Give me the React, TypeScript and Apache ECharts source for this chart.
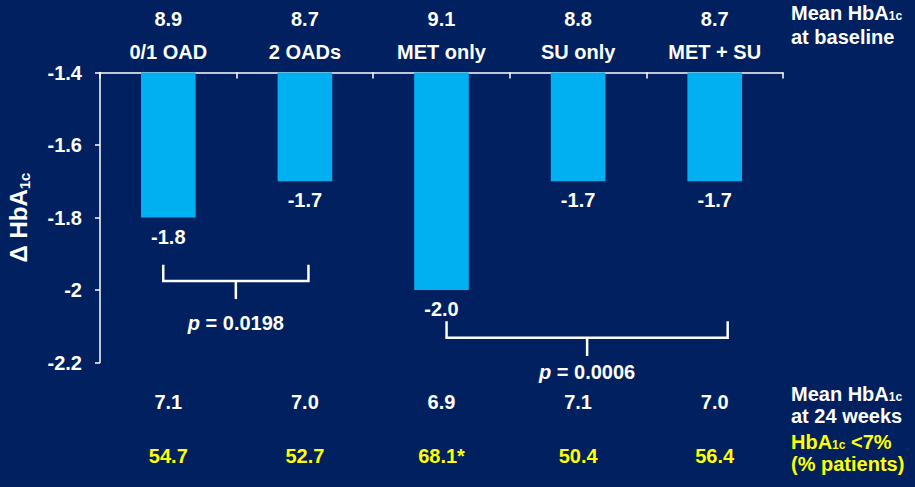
import React, { useEffect, useRef } from "react";
import * as echarts from "echarts";

const categories = ["0/1 OAD", "2 OADs", "MET only", "SU only", "MET + SU"];
const baselineHbA1c = ["8.9", "8.7", "9.1", "8.8", "8.7"];
const changeHbA1c = [-1.8, -1.7, -2.0, -1.7, -1.7];
const week24HbA1c = ["7.1", "7.0", "6.9", "7.1", "7.0"];
const below7Pct = ["54.7", "52.7", "68.1*", "50.4", "56.4"];
const yMin = -2.2;
const yMax = -1.4;
const yStep = 0.2;

// comparison brackets: category pair, value levels (arm tip, bar, stem end, label) and p value
const bracketFrom = [0, 2];
const bracketTo = [1, 4];
const bracketTip = [-1.93, -2.086];
const bracketBar = [-1.975, -2.132];
const bracketStem = [-2.025, -2.182];
const bracketLabel = [-2.09, -2.225];
const pValues = ["0.0198", "0.0006"];

const FONT = "'Liberation Sans', Arial, Helvetica, sans-serif";
const BG = "#002060";
const BAR = "#00B0F0";
const YELLOW = "#FFFF00";

export default function App() {
  const ref = useRef<HTMLDivElement>(null);

  useEffect(() => {
    document.body.style.margin = "0";
    const chart = echarts.init(ref.current!, null, { renderer: "svg" });

    // zrender (graphic) rich tokens use fill instead of color
    const gSub = (color: string) => ({
      fontSize: 12,
      fontWeight: "bold",
      fill: color,
      fontFamily: FONT,
      lineHeight: 12,
      padding: [7, 0, 0, 0],
      verticalAlign: "top",
    });
    const gMain = (color: string, size: number, lh: number) => ({
      fontSize: size,
      fontWeight: "bold",
      fill: color,
      fontFamily: FONT,
      lineHeight: lh,
      verticalAlign: "top",
    });

    const leftOff = [-0.037, 0.037];
    const rightOff = [0.026, 0.095];

    chart.setOption({
      animation: false,
      backgroundColor: BG,
      textStyle: { fontFamily: FONT },
      grid: {
        left: 100,
        right: 132,
        top: 72.5,
        bottom: 124.5,
        containLabel: false,
        outerBoundsMode: "none",
      },
      xAxis: [
        {
          type: "category",
          position: "top",
          data: categories,
          axisLine: { show: true, lineStyle: { color: "#ffffff", width: 1.5 } },
          axisTick: { show: true, inside: true, length: 6, lineStyle: { color: "#ffffff", width: 1.5 } },
          axisLabel: {
            margin: 4,
            interval: 0,
            formatter: (v: string, i: number) => `{b|${baselineHbA1c[i]}}\n{c|${v}}`,
            rich: {
              b: { fontSize: 20, fontWeight: "bold", color: "#fff", fontFamily: FONT, lineHeight: 33 },
              c: { fontSize: 20, fontWeight: "bold", color: "#fff", fontFamily: FONT, lineHeight: 33 },
            },
          },
          splitLine: { show: false },
        },
        {
          type: "category",
          position: "bottom",
          data: categories,
          axisLine: { show: false },
          axisTick: { show: false },
          axisLabel: {
            margin: 12,
            interval: 0,
            formatter: (_v: string, i: number) => `{w|${week24HbA1c[i]}}\n{y|${below7Pct[i]}}`,
            rich: {
              w: { fontSize: 20, fontWeight: "bold", color: "#fff", fontFamily: FONT, lineHeight: 54 },
              y: { fontSize: 20, fontWeight: "bold", color: YELLOW, fontFamily: FONT, lineHeight: 54 },
            },
          },
          splitLine: { show: false },
        },
      ],
      yAxis: {
        type: "value",
        min: yMin,
        max: yMax,
        interval: yStep,
        axisLine: { show: true, lineStyle: { color: "#ffffff", width: 1.5 } },
        axisTick: { show: true, length: 5, lineStyle: { color: "#ffffff", width: 1.5 } },
        splitLine: { show: false },
        axisLabel: {
          margin: 18,
          color: "#fff",
          fontSize: 20,
          fontWeight: "bold",
          fontFamily: FONT,
          formatter: (v: number) => String(+v.toFixed(1)),
        },
        name: "{a|Δ HbA}{s|1c}",
        nameLocation: "middle",
        nameRotate: 90,
        nameGap: 66,
        nameTextStyle: {
          rich: {
            a: {
              fontSize: 24,
              fontWeight: "bold",
              color: "#fff",
              fontFamily: FONT,
              lineHeight: 28,
              verticalAlign: "top",
            },
            s: {
              fontSize: 15,
              fontWeight: "bold",
              color: "#fff",
              fontFamily: FONT,
              lineHeight: 14,
              padding: [11, 0, 0, 0],
              verticalAlign: "top",
            },
          },
        },
      },
      series: [
        {
          type: "bar",
          xAxisIndex: 0,
          data: changeHbA1c,
          barWidth: "40%",
          clip: true,
          itemStyle: { color: BAR },
          label: {
            show: true,
            position: "bottom",
            distance: 9,
            color: "#fff",
            fontSize: 20,
            fontWeight: "bold",
            fontFamily: FONT,
            formatter: (p: any) => (p.value as number).toFixed(1),
          },
        },
        {
          type: "custom",
          xAxisIndex: 0,
          clip: false,
          data: bracketFrom.map((f, i) => [f, bracketTo[i], bracketTip[i]]),
          encode: { x: 0, y: 2 },
          renderItem: (params: any, api: any) => {
            const i = params.dataIndex;
            const w = api.size([1, 0])[0];
            const xl = api.coord([bracketFrom[i], bracketTip[i]])[0] + leftOff[i] * w;
            const xr = api.coord([bracketTo[i], bracketTip[i]])[0] + rightOff[i] * w;
            const xm = (xl + xr) / 2;
            const yTip = api.coord([bracketFrom[i], bracketTip[i]])[1];
            const yBar = api.coord([bracketFrom[i], bracketBar[i]])[1];
            const yStem = api.coord([bracketFrom[i], bracketStem[i]])[1];
            const yLab = api.coord([bracketFrom[i], bracketLabel[i]])[1];
            const stroke = { stroke: "#ffffff", lineWidth: 2.5, fill: null };
            return {
              type: "group",
              children: [
                {
                  type: "polyline",
                  shape: { points: [[xl, yTip], [xl, yBar], [xr, yBar], [xr, yTip]] },
                  style: stroke,
                },
                { type: "line", shape: { x1: xm, y1: yBar, x2: xm, y2: yStem }, style: stroke },
                {
                  type: "text",
                  x: xm,
                  y: yLab,
                  style: {
                    text: `{i|p} = ${pValues[i]}`,
                    align: "center",
                    verticalAlign: "middle",
                    rich: {
                      i: { fontSize: 20, fontWeight: "bold", fontStyle: "italic", fill: "#fff", fontFamily: FONT },
                    },
                    fontSize: 20,
                    fontWeight: "bold",
                    fill: "#fff",
                    fontFamily: FONT,
                  },
                },
              ],
            };
          },
        },
      ],
      graphic: [
        {
          type: "text",
          left: 791,
          top: 3,
          style: {
            text: "{a|Mean HbA}{s|1c}\n{a|at baseline}",
            rich: { a: gMain("#fff", 20, 24), s: gSub("#fff") },
          },
        },
        {
          type: "text",
          left: 791,
          top: 384,
          style: {
            text: "{a|Mean HbA}{s|1c}\n{a|at 24 weeks}",
            rich: { a: gMain("#fff", 20, 22), s: gSub("#fff") },
          },
        },
        {
          type: "text",
          left: 791,
          top: 432,
          style: {
            text: "{a|HbA}{s|1c}{a| <7%}\n{a|(% patients)}",
            rich: { a: gMain(YELLOW, 20, 22), s: gSub(YELLOW) },
          },
        },
      ],
    });

    return () => chart.dispose();
  }, []);

  return (
    <div
      ref={ref}
      style={{ position: "fixed", left: 0, top: 0, width: 915, height: 487 }}
    />
  );
}
